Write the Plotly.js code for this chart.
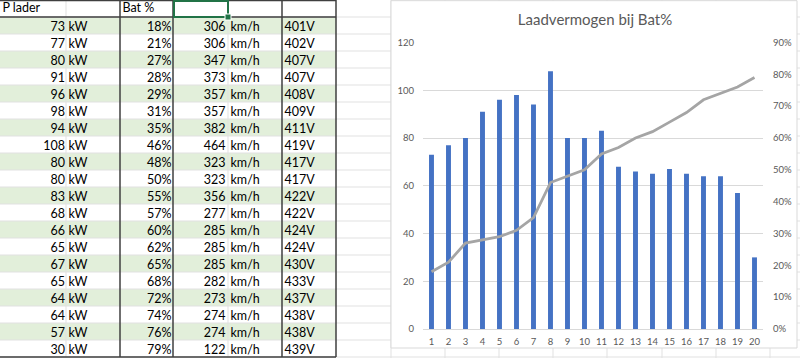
<!DOCTYPE html>
<html>
<head>
<meta charset="utf-8">
<script src="https://cdn.plot.ly/plotly-3.0.1.min.js"></script>
<style>html,body{margin:0;padding:0;background:#fff;}#chart{width:800px;height:358px;}</style>
</head>
<body>
<div id="chart"></div>
<script>
// ---- data ----
const categories = ['1','2','3','4','5','6','7','8','9','10','11','12','13','14','15','16','17','18','19','20'];
const power   = [73, 77, 80, 91, 96, 98, 94, 108, 80, 80, 83, 68, 66, 65, 67, 65, 64, 64, 57, 30];
const batPct  = [18, 21, 27, 28, 29, 31, 35, 46, 48, 50, 55, 57, 60, 62, 65, 68, 72, 74, 76, 79];
const speed   = [306, 306, 347, 373, 357, 357, 382, 464, 323, 323, 356, 277, 285, 285, 285, 282, 273, 274, 274, 122];
const voltage = [401, 402, 407, 407, 408, 409, 411, 419, 417, 417, 422, 422, 424, 424, 430, 433, 437, 438, 438, 439];
const headers = ['P lader', 'Bat %'];
const units = ['kW', 'km/h', 'V'];
const chartTitle = 'Laadvermogen bij Bat%';

// ---- layout constants (positions/styles) ----
const W = 800, H = 358, ROWPX = 17;
const colEdges = [0, 66, 120, 173, 228, 282, 336];
const extraCols = [391, 445, 499, 553, 607, 662, 716, 770];
const FONT = 'Lato, "Open Sans", sans-serif';
const n = power.length;
const rowY = power.map((_, i) => i + 1.62);

function textTrace(xpos, texts, pos) {
  return {
    type: 'scatter', mode: 'text', xaxis: 'x', yaxis: 'y',
    x: texts.map(() => xpos), y: texts.map((_, i) => rowY[i]),
    text: texts, textposition: pos,
    textfont: {family: FONT, size: 12.5, color: '#000'},
    hoverinfo: 'skip', showlegend: false, cliponaxis: false
  };
}

const traces = [
  textTrace(colEdges[1] - 1, power.map(String), 'middle left'),
  textTrace(colEdges[1] + 2.5, power.map(() => units[0]), 'middle right'),
  textTrace(colEdges[3] - 1.5, batPct.map(v => v + '%'), 'middle left'),
  textTrace(colEdges[4] - 2.5, speed.map(String), 'middle left'),
  textTrace(colEdges[4] + 2.5, speed.map(() => units[1]), 'middle right'),
  textTrace(colEdges[5] + 2.5, voltage.map(v => v + units[2]), 'middle right'),
  {
    type: 'scatter', mode: 'text', xaxis: 'x', yaxis: 'y',
    x: [colEdges[0] + 2.5, colEdges[2] + 2.5], y: [0.55, 0.55], text: headers,
    textposition: 'middle right', textfont: {family: FONT, size: 12.5, color: '#000'},
    hoverinfo: 'skip', showlegend: false, cliponaxis: false
  },
  {
    type: 'bar', x: categories, y: power, xaxis: 'x2', yaxis: 'y2',
    marker: {color: '#4472C4'}, hoverinfo: 'skip', showlegend: false
  },
  {
    type: 'scatter', mode: 'lines', x: categories, y: batPct, xaxis: 'x2', yaxis: 'y3',
    line: {color: '#A5A5A5', width: 2.75}, hoverinfo: 'skip', showlegend: false
  }
];

const shapes = [];
const nRowsTot = n + 1;
const tableRight = colEdges[colEdges.length - 1];
// shaded rows
for (let i = 0; i < n; i += 2) {
  shapes.push({type: 'rect', xref: 'x', yref: 'y', layer: 'below', x0: 0, x1: tableRight, y0: i + 1, y1: i + 2,
    fillcolor: '#E2EFDA', line: {width: 0}});
}
// light horizontal gridlines
for (let r = 1; r <= nRowsTot; r++) {
  shapes.push({type: 'line', xref: 'x', yref: 'y', layer: 'below', x0: 0, x1: W, y0: r, y1: r,
    line: {color: '#E1E1E1', width: 1}});
}
// light vertical gridlines
[colEdges[1], colEdges[4]].concat(extraCols).forEach(x => {
  shapes.push({type: 'line', xref: 'x', yref: 'y', layer: 'below', x0: x, x1: x, y0: 0, y1: H / ROWPX,
    line: {color: '#E1E1E1', width: 1}});
});
// dark borders
[colEdges[2], colEdges[3], colEdges[5], colEdges[6]].forEach(x => {
  shapes.push({type: 'line', xref: 'x', yref: 'y', layer: 'below', x0: x, x1: x, y0: 0, y1: nRowsTot,
    line: {color: '#3F3F3F', width: 1.5}});
});
[0.03, 1, nRowsTot].forEach(y => {
  shapes.push({type: 'line', xref: 'x', yref: 'y', layer: 'below', x0: 0, x1: tableRight, y0: y, y1: y,
    line: {color: '#3F3F3F', width: 1.5}});
});
// selected cell
shapes.push({type: 'rect', xref: 'x', yref: 'y', layer: 'below', x0: colEdges[3] + 1, x1: colEdges[4], y0: 0.06, y1: 1,
  fillcolor: 'rgba(0,0,0,0)', line: {color: '#217346', width: 2}});
shapes.push({type: 'rect', xref: 'x', yref: 'y', layer: 'below', x0: colEdges[4] - 3, x1: colEdges[4] + 3, y0: 1 - 3 / ROWPX, y1: 1 + 3 / ROWPX,
  fillcolor: '#217346', line: {color: '#ffffff', width: 1}});
// chart panel
shapes.push({type: 'rect', xref: 'x', yref: 'y', layer: 'below', x0: 391, x1: 797, y0: 0.04, y1: 348 / ROWPX,
  fillcolor: '#ffffff', line: {color: '#D9D9D9', width: 1}});

const tickFont = {family: FONT, size: 9.5, color: '#595959'};
const layout = {
  width: W, height: H,
  margin: {l: 0, r: 0, t: 0, b: 0, pad: 0},
  paper_bgcolor: '#ffffff', plot_bgcolor: 'rgba(0,0,0,0)',
  font: {family: FONT},
  showlegend: false, hovermode: false,
  bargap: 0.71,
  title: {text: chartTitle, xref: 'paper', yref: 'paper', x: 595 / W, xanchor: 'center', y: 1 - 20 / H, yanchor: 'middle',
    font: {family: FONT, size: 15, color: '#595959'}},
  xaxis: {domain: [0, 1], range: [0, W], visible: false, fixedrange: true},
  yaxis: {domain: [0, 1], range: [H / ROWPX, 0], visible: false, fixedrange: true},
  xaxis2: {domain: [423 / W, 763 / W], anchor: 'y2', type: 'category', showgrid: false,
    showline: true, linecolor: '#D9D9D9', linewidth: 1, ticks: '', tickfont: tickFont, ticklabelstandoff: 4,
    zeroline: false},
  yaxis2: {domain: [(H - 329) / H, (H - 42.5) / H], anchor: 'x2', range: [0, 120], dtick: 20, tick0: 0,
    showgrid: true, gridcolor: '#D9D9D9', gridwidth: 1, zeroline: false, showline: false, ticks: '',
    tickfont: tickFont, ticklabelstandoff: 8},
  yaxis3: {overlaying: 'y2', side: 'right', anchor: 'x2', range: [0, 90], dtick: 10, tick0: 0, ticksuffix: '%',
    showgrid: false, zeroline: false, showline: false, ticks: '', tickfont: tickFont, ticklabelstandoff: 9},
  shapes: shapes
};

Plotly.newPlot('chart', traces, layout, {staticPlot: true, displayModeBar: false});
</script>
</body>
</html>
